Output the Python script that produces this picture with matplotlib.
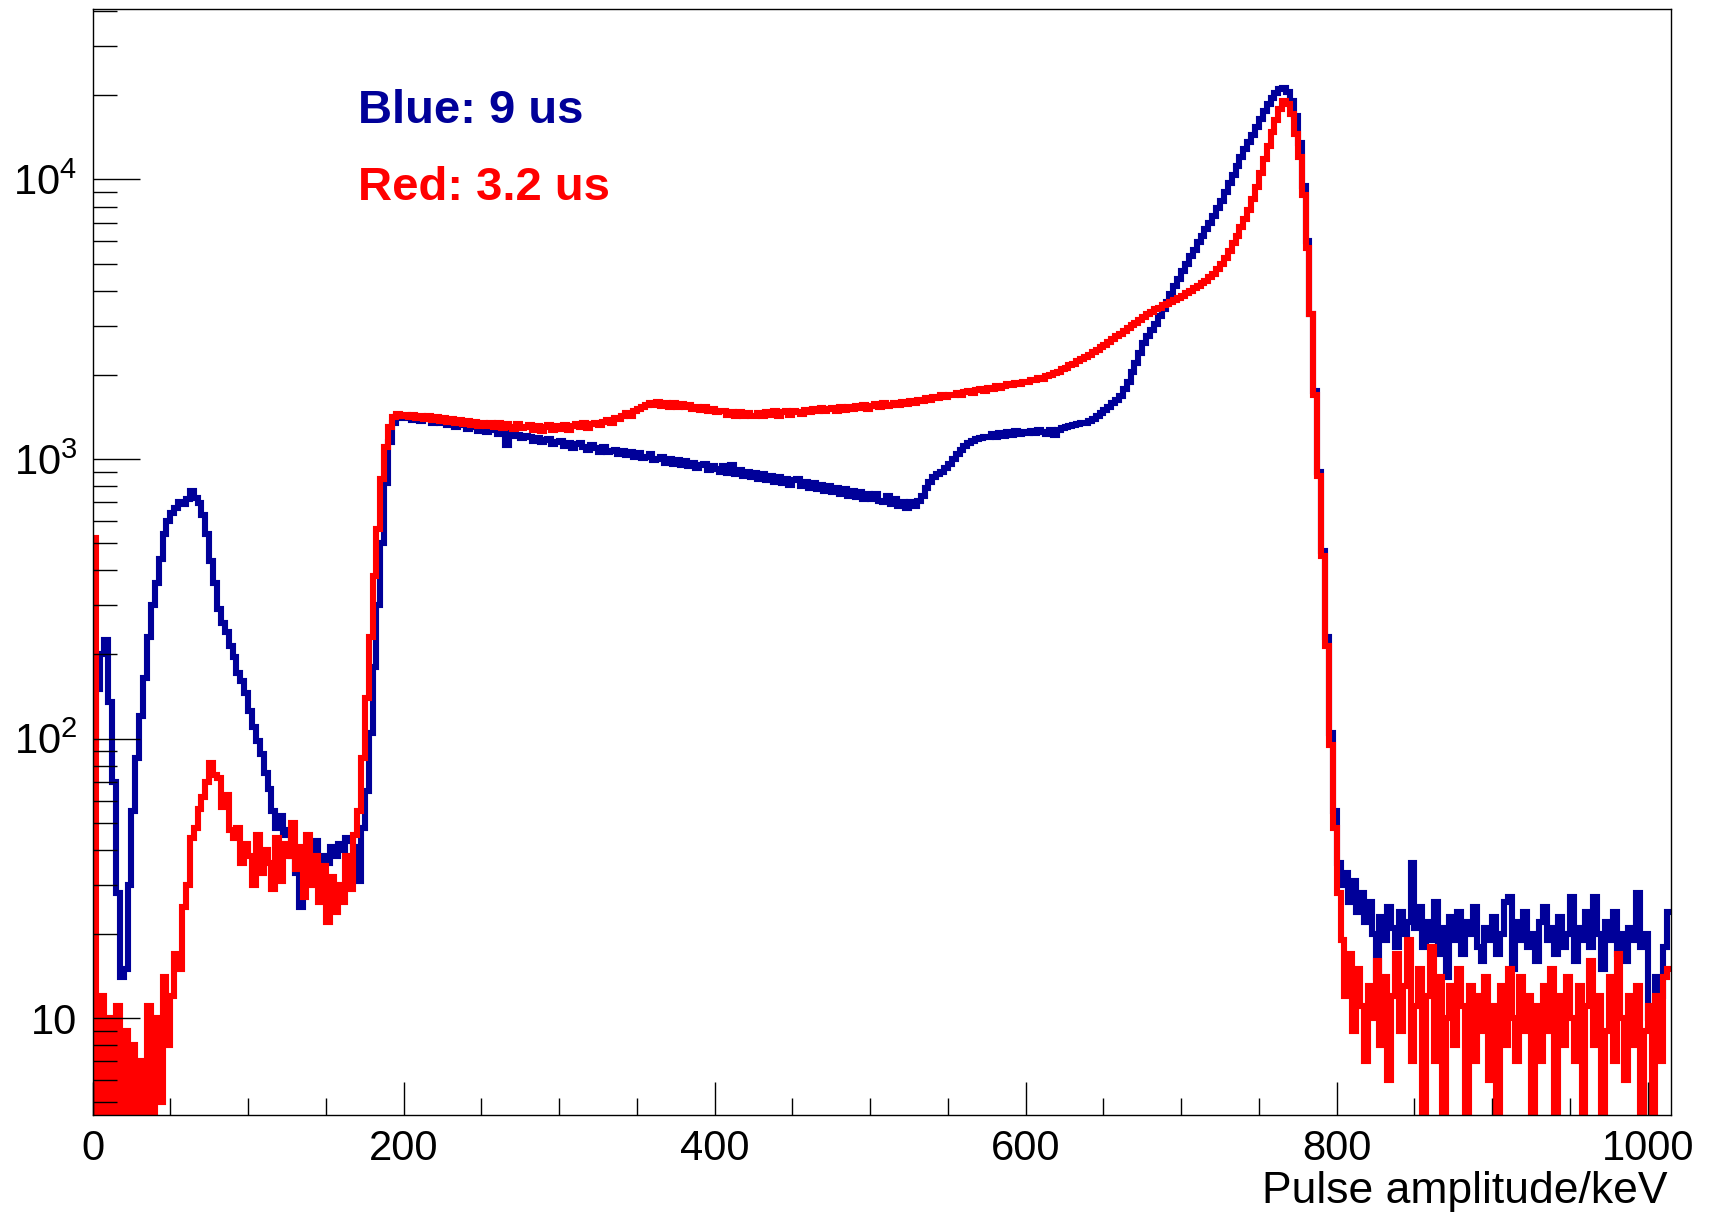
import numpy as np
import matplotlib
matplotlib.use("Agg")
import matplotlib.pyplot as plt
from matplotlib.ticker import FixedLocator, LogLocator, NullFormatter, MultipleLocator

plt.rcParams['font.family'] = ['Liberation Sans', 'DejaVu Sans']
plt.rcParams['mathtext.fontset'] = 'custom'
plt.rcParams['mathtext.rm'] = 'Liberation Sans'
plt.rcParams['mathtext.it'] = 'Liberation Sans:italic'
plt.rcParams['mathtext.bf'] = 'Liberation Sans:bold'
plt.rcParams['mathtext.default'] = 'regular'

# ---------------- data ----------------
bin_width_kev = 2.5
x_start_kev = 0.0

blue_counts = [
    95, 150, 200, 225, 135, 70, 28, 14, 15, 30,
    55, 85, 120, 165, 230, 300, 360, 440, 540, 600,
    640, 665, 700, 690, 720, 765, 725, 695, 630, 540,
    430, 360, 290, 260, 240, 215, 195, 172, 160, 145,
    125, 110, 98, 88, 75, 66, 55, 48, 53, 45,
    47, 38, 33, 25, 36, 40, 37, 43, 34, 38,
    36, 41, 38, 42, 40, 44, 43, 41, 31, 48,
    65, 105, 180, 300, 500, 820, 1150, 1350, 1420, 1400,
    1400, 1420, 1380, 1410, 1370, 1390, 1400, 1350, 1370, 1340,
    1360, 1320, 1350, 1300, 1320, 1330, 1280, 1300, 1310, 1260,
    1290, 1250, 1270, 1280, 1230, 1250, 1120, 1260, 1210, 1220,
    1190, 1210, 1200, 1160, 1190, 1150, 1170, 1180, 1130, 1150,
    1160, 1110, 1140, 1090, 1130, 1140, 1100, 1080, 1120, 1090,
    1060, 1100, 1060, 1070, 1080, 1040, 1070, 1030, 1060, 1020,
    1050, 1010, 1020, 1040, 990, 1000, 1020, 970, 1000, 960,
    990, 950, 980, 940, 970, 930, 950, 960, 910, 940,
    920, 900, 940, 890, 950, 880, 910, 870, 900, 860,
    890, 850, 880, 840, 870, 830, 860, 820, 850, 810,
    840, 850, 800, 830, 790, 820, 780, 810, 770, 800,
    760, 790, 750, 780, 740, 770, 730, 760, 720, 750,
    720, 750, 710, 700, 740, 690, 720, 680, 700, 670,
    700, 680, 710, 740, 790, 830, 860, 880, 900, 930,
    960, 1000, 1040, 1080, 1110, 1140, 1160, 1180, 1190, 1200,
    1200, 1230, 1200, 1240, 1210, 1250, 1220, 1260, 1230, 1250,
    1240, 1260, 1235, 1265, 1245, 1230, 1265, 1215, 1270, 1290,
    1300, 1310, 1320, 1330, 1340, 1350, 1370, 1390, 1420, 1460,
    1500, 1540, 1580, 1620, 1680, 1780, 1880, 2050, 2200, 2400,
    2600, 2750, 2900, 3050, 3250, 3450, 3650, 3900, 4150, 4400,
    4700, 5000, 5300, 5600, 5950, 6300, 6650, 7000, 7400, 7900,
    8400, 9000, 9700, 10400, 11200, 12000, 12800, 13600, 14400, 15400,
    16400, 17500, 18600, 19600, 20400, 21000, 21300, 20500, 19000, 16800,
    13500, 9500, 6000, 3300, 1750, 900, 470, 230, 105, 55,
    36, 30, 33, 26, 31, 24, 28, 22, 26, 20,
    14, 23, 19, 25, 21, 18, 24, 20, 22, 36,
    21, 25, 18, 22, 19, 26, 17, 21, 14, 23,
    19, 24, 17, 22, 20, 25, 18, 16, 21, 19,
    23, 17, 20, 26, 27, 15, 22, 19, 24, 18,
    20, 16, 22, 25, 19, 21, 17, 23, 18, 20,
    27, 16, 21, 19, 24, 18, 27, 20, 15, 22,
    19, 24, 17, 20, 16, 21, 19, 28, 18, 20,
    10, 9, 14, 12, 18, 24,
]

red_counts = [
    520, 3, 12, 4, 10, 2, 11, 3, 9, 2,
    8, 2, 7, 3, 11, 3, 10, 5, 14, 8,
    12, 17, 15, 25, 30, 44, 48, 56, 62, 70,
    82, 74, 72, 57, 63, 47, 44, 48, 36, 42,
    38, 30, 45, 33, 40, 36, 29, 44, 31, 42,
    38, 50, 34, 41, 27, 45, 30, 38, 26, 35,
    22, 32, 24, 30, 26, 38, 29, 45, 55, 85,
    140, 230, 380, 560, 850, 1100, 1300, 1410, 1450, 1430,
    1440, 1410, 1440, 1400, 1430, 1390, 1430, 1380, 1410, 1370,
    1400, 1360, 1390, 1340, 1380, 1330, 1370, 1320, 1360, 1310,
    1350, 1310, 1340, 1300, 1350, 1290, 1330, 1300, 1280, 1330,
    1290, 1300, 1320, 1270, 1310, 1260, 1300, 1320, 1270, 1310,
    1280, 1320, 1270, 1310, 1330, 1300, 1340, 1290, 1330, 1350,
    1320, 1360, 1380, 1350, 1400, 1390, 1430, 1460, 1430, 1490,
    1510, 1540, 1560, 1590, 1560, 1600, 1550, 1590, 1540, 1580,
    1540, 1570, 1530, 1560, 1510, 1540, 1500, 1530, 1480, 1510,
    1470, 1490, 1480, 1440, 1470, 1430, 1470, 1420, 1460, 1430,
    1420, 1460, 1430, 1470, 1440, 1480, 1430, 1470, 1480, 1440,
    1480, 1470, 1450, 1500, 1470, 1510, 1480, 1520, 1480, 1510,
    1520, 1490, 1530, 1500, 1540, 1510, 1550, 1520, 1560, 1510,
    1550, 1570, 1540, 1580, 1550, 1560, 1590, 1560, 1600, 1570,
    1610, 1580, 1620, 1610, 1650, 1620, 1660, 1650, 1690, 1660,
    1700, 1690, 1720, 1690, 1730, 1750, 1720, 1760, 1780, 1750,
    1790, 1780, 1820, 1790, 1830, 1850, 1840, 1870, 1860, 1890,
    1890, 1910, 1920, 1950, 1940, 1980, 1990, 2030, 2050, 2090,
    2110, 2160, 2190, 2240, 2270, 2320, 2360, 2420, 2460, 2520,
    2560, 2630, 2680, 2750, 2800, 2870, 2930, 3010, 3070, 3150,
    3210, 3290, 3350, 3430, 3480, 3550, 3590, 3650, 3700, 3770,
    3830, 3920, 3990, 4080, 4150, 4250, 4330, 4460, 4600, 4800,
    5000, 5250, 5550, 5900, 6300, 6750, 7200, 7800, 8500, 9400,
    10500, 11800, 13200, 14800, 16300, 17800, 19000, 18600, 17200, 14500,
    12000, 8800, 5700, 3300, 1700, 870, 450, 215, 95, 48,
    28, 19, 12, 17, 9, 15, 11, 7, 13, 10,
    16, 8, 14, 6, 12, 17, 9, 13, 19, 7,
    11, 15, 4, 12, 18, 7, 14, 3, 10, 13,
    8, 15, 11, 3, 13, 7, 12, 9, 14, 6,
    11, 4, 13, 8, 15, 10, 7, 14, 9, 12,
    3, 11, 7, 13, 9, 15, 2, 12, 8, 14,
    10, 7, 13, 4, 11, 16, 8, 12, 3, 9,
    14, 7, 17, 10, 6, 12, 8, 13, 3, 9,
    11, 4, 12, 7, 14, 15,
]

x_tick_values = [0, 200, 400, 600, 800, 1000]
x_tick_labels = ["0", "200", "400", "600", "800", "1000"]
y_tick_values = [10, 100, 1000, 10000]
y_tick_labels = ["10", r"$10^{2}$", r"$10^{3}$", r"$10^{4}$"]
x_title = "Pulse amplitude/keV"
label_blue = "Blue: 9 us"
label_red = "Red: 3.2 us"

assert len(blue_counts) == len(red_counts) == 406, (len(blue_counts), len(red_counts))

# ---------------- plot ----------------
BLUE = "#000099"
RED = "#ff0000"
W, H = 1709, 1215

fig = plt.figure(figsize=(W / 100, H / 100), dpi=100)
left, right, top, bottom = 92.6, 1671.0, 8.7, 1115.0
ax = fig.add_axes([left / W, 1 - bottom / H, (right - left) / W, (bottom - top) / H])

edges = x_start_kev + bin_width_kev * np.arange(len(blue_counts) + 1)
ax.stairs(blue_counts, edges, color=BLUE, linewidth=4.4, baseline=None)
ax.stairs(red_counts, edges, color=RED, linewidth=4.4, baseline=None)

ax.set_yscale('log')
ax.set_xlim(edges[0], edges[-1])
ax.set_ylim(4.5, 40800)

ax.xaxis.set_major_locator(FixedLocator(x_tick_values))
ax.set_xticklabels(x_tick_labels)
ax.xaxis.set_minor_locator(MultipleLocator(50))
ax.yaxis.set_major_locator(FixedLocator(y_tick_values))
ax.set_yticklabels(y_tick_labels)
ax.yaxis.set_minor_locator(LogLocator(base=10, subs=range(2, 10)))
ax.yaxis.set_minor_formatter(NullFormatter())

ax.tick_params(which='both', direction='in', top=False, right=False, width=1.0,
               labelsize=30, colors='black')
ax.xaxis.set_tick_params(which='major', length=24, pad=10)
ax.xaxis.set_tick_params(which='minor', length=12)
ax.yaxis.set_tick_params(which='major', length=34, pad=11)
ax.yaxis.set_tick_params(which='minor', length=17)
for s in ax.spines.values():
    s.set_linewidth(1.0)

fig.text(1668 / W, 1 - 1192 / H, x_title, ha='right', va='center', fontsize=32)
fig.text(358 / W, 1 - 123 / H, label_blue, color=BLUE, fontsize=34, fontweight='bold',
         ha='left', va='baseline')
fig.text(358 / W, 1 - 199.5 / H, label_red, color=RED, fontsize=34, fontweight='bold',
         ha='left', va='baseline')

fig.savefig("out.png", dpi=100)
